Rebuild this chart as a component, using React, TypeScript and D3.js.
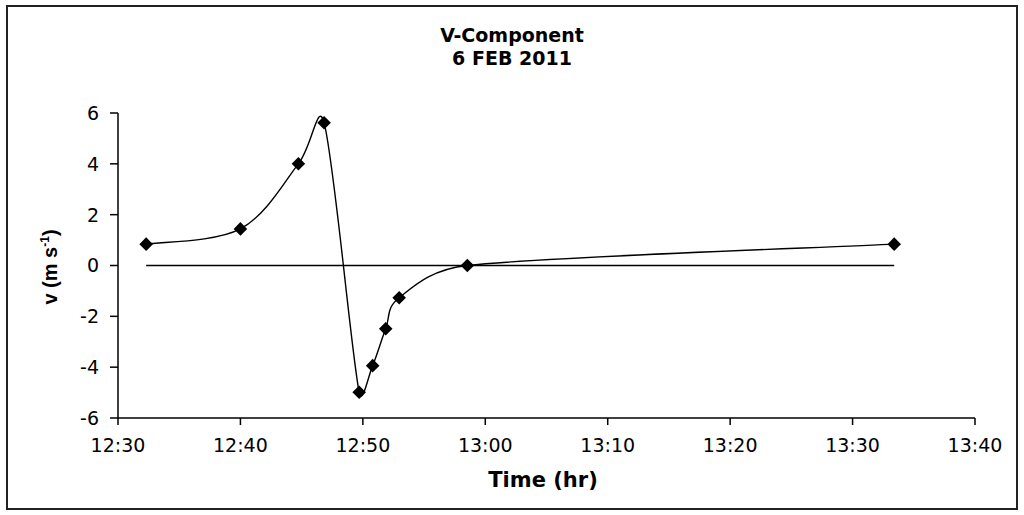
import React from "react";
import * as d3 from "d3";

const times = ["12:32:18", "12:40:00", "12:44:44", "12:46:50", "12:49:42", "12:50:48", "12:51:52", "12:52:58", "12:58:32", "13:33:24"];
const vValues = [0.84, 1.44, 4.0, 5.62, -4.99, -3.94, -2.49, -1.27, 0.0, 0.84];
const zeroValues = [0, 0];
const xTickLabels = ["12:30", "12:40", "12:50", "13:00", "13:10", "13:20", "13:30", "13:40"];
const yTicks = [-6, -4, -2, 0, 2, 4, 6];
const titleLines = ["V-Component", "6 FEB 2011"];

const parse = (s: string) => {
  const [h, m, sec] = s.split(":").map(Number);
  return new Date(2011, 1, 6, h, m, sec || 0);
};

// Excel-style smoothed line as a d3 curve factory
function curveExcel(context: any) {
  let pts: [number, number][] = [];
  return {
    areaStart() {},
    areaEnd() {},
    lineStart() { pts = []; },
    point(x: number, y: number) { pts.push([x, y]); },
    lineEnd() {
      const n = pts.length;
      if (!n) return;
      context.moveTo(pts[0][0], pts[0][1]);
      const dist = (a: [number, number], b: [number, number]) => Math.hypot(b[0] - a[0], b[1] - a[1]);
      for (let i = 0; i < n - 1; i++) {
        const p0 = pts[Math.max(0, i - 1)], p1 = pts[i], p2 = pts[i + 1], p3 = pts[Math.min(n - 1, i + 2)];
        const d12 = dist(p1, p2), d02 = dist(p0, p2), d13 = dist(p1, p3);
        let f0 = 1 / 6, f1 = 1 / 6;
        if (d02 / 6 > d12 / 2 && d02 > 0) f0 = d12 / d02 / 2;
        if (d13 / 6 > d12 / 2 && d13 > 0) f1 = d12 / d13 / 2;
        const c1 = [p1[0] + (p2[0] - p0[0]) * f0, p1[1] + (p2[1] - p0[1]) * f0];
        const c2 = [p2[0] - (p3[0] - p1[0]) * f1, p2[1] - (p3[1] - p1[1]) * f1];
        context.bezierCurveTo(c1[0], c1[1], c2[0], c2[1], p2[0], p2[1]);
      }
    },
  };
}

export default function App() {
  const W = 1024, H = 515;
  const x = d3.scaleTime().domain([parse("12:30"), parse("13:40")]).range([118, 975]);
  const y = d3.scaleLinear().domain([-6, 6]).range([418, 113]);
  const pts = times.map((t, i) => ({ t: parse(t), v: vValues[i] }));
  const line = d3.line<{ t: Date; v: number }>().x(d => x(d.t)).y(d => y(d.v)).curve(curveExcel as any);
  const zeroPts = [pts[0].t, pts[pts.length - 1].t].map((t, i) => ({ t, v: zeroValues[i] }));
  const straight = d3.line<{ t: Date; v: number }>().x(d => x(d.t)).y(d => y(d.v));
  const marker = d3.symbol().type(d3.symbolSquare).size(92)();
  const sans = "'DejaVu Sans', Verdana, sans-serif";
  const arial = "'Liberation Sans', Arial, sans-serif";
  return (
    <svg width={W} height={H} style={{ position: "absolute", left: 0, top: 0, background: "#fff" }} fontFamily={sans}>
      <rect x={0} y={0} width={W} height={H} fill="#fff" />
      <rect x={7} y={6} width={1010} height={503} fill="none" stroke="#222" strokeWidth={2} />
      {titleLines.map((t, i) => (
        <text key={t} x={512} y={42 + i * 23} textAnchor="middle" fontSize={19} fontWeight="bold" fill="#000">{t}</text>
      ))}
      <line x1={118} y1={113} x2={118} y2={418} stroke="#000" strokeWidth={1.5} />
      <line x1={118} y1={418} x2={975} y2={418} stroke="#000" strokeWidth={1.5} />
      {yTicks.map(v => (
        <g key={v}>
          <line x1={110} x2={118} y1={y(v)} y2={y(v)} stroke="#000" strokeWidth={1.5} />
          <text x={99} y={y(v)} dy="0.36em" textAnchor="end" fontSize={19} fill="#000">{v}</text>
        </g>
      ))}
      {xTickLabels.map(l => (
        <g key={l}>
          <line x1={x(parse(l))} x2={x(parse(l))} y1={418} y2={425} stroke="#000" strokeWidth={1.5} />
          <text x={x(parse(l))} y={452} textAnchor="middle" fontSize={19} fill="#000">{l}</text>
        </g>
      ))}
      <text x={543} y={487} textAnchor="middle" fontSize={21} fontWeight="bold" fill="#000">Time (hr)</text>
      <text transform={`translate(50,267) rotate(-90)`} textAnchor="middle" dy="0.35em" fontSize={20} fontWeight="bold" fontFamily={arial} fill="#000">
        v (m s<tspan dy="-8" fontSize={12}>-1</tspan><tspan dy="8">)</tspan>
      </text>
      <path d={straight(zeroPts) || ""} fill="none" stroke="#000" strokeWidth={1.3} />
      <path d={line(pts) || ""} fill="none" stroke="#000" strokeWidth={1.4} />
      {pts.map((p, i) => (
        <path key={i} d={marker || ""} transform={`translate(${x(p.t)},${y(p.v)}) rotate(45)`} fill="#000" />
      ))}
    </svg>
  );
}
